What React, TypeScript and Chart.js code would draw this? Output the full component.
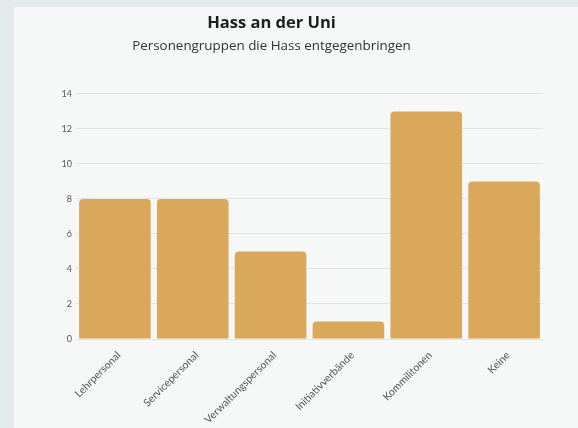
import { useEffect, useRef } from 'react';
import { Chart, registerables } from 'chart.js';

Chart.register(...registerables);

const categories = [
  'Lehrpersonal',
  'Servicepersonal',
  'Verwaltungspersonal',
  'Initiativverbände',
  'Kommilitonen',
  'Keine',
];
const values = [8, 8, 5, 1, 13, 9];
const yTicks = [0, 2, 4, 6, 8, 10, 12, 14];

const titleText = 'Hass an der Uni';
const subtitleText = 'Personengruppen die Hass entgegenbringen';

export default function App() {
  const ref = useRef<HTMLCanvasElement | null>(null);

  useEffect(() => {
    if (!ref.current) return;
    const chart = new Chart(ref.current, {
      type: 'bar',
      data: {
        labels: categories,
        datasets: [
          {
            data: values,
            backgroundColor: '#d9a85b',
            borderRadius: 4,
            barPercentage: 0.92,
            categoryPercentage: 1,
          },
        ],
      },
      options: {
        animation: false,
        responsive: false,
        layout: { padding: { top: 0, left: 0, right: 35, bottom: 0 } },
        plugins: {
          legend: { display: false },
          tooltip: { enabled: false },
          title: {
            display: true,
            text: titleText,
            color: '#1e1e1e',
            font: { family: 'Open Sans', size: 16.5, weight: 'bold' },
            padding: { top: 13, bottom: 2 },
          },
          subtitle: {
            display: true,
            text: subtitleText,
            color: '#333333',
            font: { family: 'Open Sans', size: 13.4 },
            padding: { top: 3, bottom: 40 },
          },
        },
        scales: {
          x: {
            grid: { display: false },
            border: { display: false },
            ticks: {
              color: '#555555',
              font: { family: 'Lato', size: 10.5 },
              maxRotation: 45,
              minRotation: 45,
              padding: 2,
              labelOffset: 4,
            },
            afterFit: (s: any) => {
              s.height = 89;
            },
          },
          y: {
            min: 0,
            max: 14,
            afterBuildTicks: (s: any) => {
              s.ticks = yTicks.map((v) => ({ value: v }));
            },
            grid: { color: '#e2e2e2', drawTicks: false },
            border: { display: false },
            ticks: {
              color: '#555555',
              font: { family: 'Lato', size: 9 },
              padding: 4,
            },
            afterFit: (s: any) => {
              s.width = 76;
            },
          },
        },
      },
    });
    return () => chart.destroy();
  }, []);

  return (
    <div style={{ position: 'fixed', left: 0, top: 0, width: 578, height: 428, background: '#e4ebed' }}>
      <div style={{ position: 'absolute', left: 14, top: 7, right: 0, bottom: 0, background: '#f6f7f7' }} />
      <canvas ref={ref} width={578} height={428} style={{ position: 'absolute', left: 0, top: 0, width: 578, height: 428 }} />
    </div>
  );
}
